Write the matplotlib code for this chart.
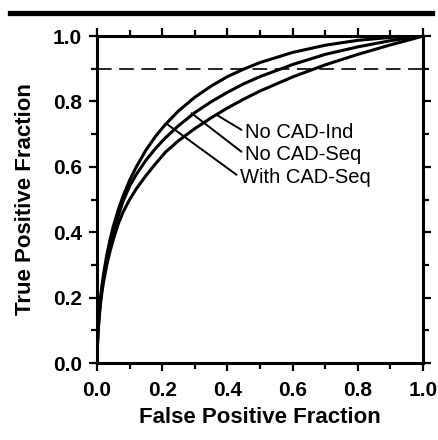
import matplotlib
matplotlib.use('Agg')
import matplotlib.pyplot as plt
from matplotlib.lines import Line2D
from matplotlib.ticker import MultipleLocator

# ROC curves: false positive fraction (shared) vs true positive fraction
fpf = [0, 0.001, 0.003, 0.006, 0.01, 0.015, 0.02, 0.03, 0.04, 0.05, 0.065, 0.08,
       0.1, 0.12, 0.15, 0.18, 0.21, 0.25, 0.3, 0.35, 0.4, 0.45, 0.5, 0.6, 0.7,
       0.8, 0.9, 0.96, 1.0]
tpf_with_seq = [0, 0.053, 0.10, 0.146, 0.192, 0.236, 0.272, 0.331, 0.378, 0.418,
                0.468, 0.511, 0.559, 0.599, 0.651, 0.694, 0.730, 0.771, 0.813,
                0.847, 0.876, 0.899, 0.919, 0.950, 0.972, 0.987, 0.996, 0.999, 1.0]
tpf_no_seq = [0, 0.05, 0.095, 0.14, 0.185, 0.228, 0.262, 0.318, 0.362, 0.40,
              0.45, 0.495, 0.541, 0.576, 0.620, 0.657, 0.689, 0.726, 0.766,
              0.799, 0.828, 0.854, 0.876, 0.913, 0.944, 0.967, 0.986, 0.995, 1.0]
tpf_no_ind = [0, 0.045, 0.09, 0.13, 0.175, 0.215, 0.248, 0.30, 0.342, 0.378,
              0.425, 0.462, 0.50, 0.532, 0.573, 0.61, 0.645, 0.68, 0.717,
              0.75, 0.78, 0.807, 0.832, 0.875, 0.912, 0.944, 0.973, 0.989, 1.0]

threshold = 0.9

labels = ['No CAD-Ind', 'No CAD-Seq', 'With CAD-Seq']
label_pts = [(0.367, 0.759), (0.29, 0.764), (0.213, 0.732)]
label_txt = [(0.455, 0.706), (0.455, 0.637), (0.44, 0.567)]

plt.rcParams['font.family'] = ['Liberation Sans', 'DejaVu Sans']
plt.rcParams['lines.scale_dashes'] = False

fig = plt.figure(figsize=(4.39, 4.40), dpi=100)
ax = fig.add_axes([0.221, 0.175, 0.7426, 0.743])

for tpf in [tpf_with_seq, tpf_no_seq, tpf_no_ind]:
    ax.plot(fpf, tpf, color='black', lw=2.2, solid_capstyle='round', solid_joinstyle='round')

ax.axhline(threshold, color='black', lw=1.2, dashes=(10.5, 5.5))

for lab, pt, tx in zip(labels, label_pts, label_txt):
    ax.annotate(lab, xy=pt, xytext=tx, fontsize=14.5, ha='left', va='center',
                arrowprops=dict(arrowstyle='-', lw=1.4, color='black',
                                relpos=(0, 0.5), shrinkA=1, shrinkB=0))

ax.set_xlim(0, 1)
ax.set_ylim(0, 1)
ax.xaxis.set_major_locator(MultipleLocator(0.2))
ax.xaxis.set_minor_locator(MultipleLocator(0.1))
ax.yaxis.set_major_locator(MultipleLocator(0.2))
ax.yaxis.set_minor_locator(MultipleLocator(0.1))
ax.xaxis.set_major_formatter(lambda v, p: '%.1f' % v)
ax.yaxis.set_major_formatter(lambda v, p: '%.1f' % v)

for s in ax.spines.values():
    s.set_linewidth(2.2)

ax.tick_params(which='both', direction='out', top=True, right=True, width=1.6, colors='black')
ax.tick_params(which='major', length=6)
ax.tick_params(which='minor', length=4.5)
ax.tick_params(axis='x', which='major', pad=7, labelsize=15)
ax.tick_params(axis='y', which='major', pad=5, labelsize=15)
for t in ax.get_xticklabels() + ax.get_yticklabels():
    t.set_fontweight('bold')

ax.set_xlabel('False Positive Fraction', fontsize=16, fontweight='bold', labelpad=5)
ax.set_ylabel('True Positive Fraction', fontsize=16, fontweight='bold', labelpad=12)

# thick rule across the top of the page
fig.add_artist(Line2D([0.023, 0.984], [0.970, 0.970], color='black', lw=3.8,
                      transform=fig.transFigure))

fig.savefig('out.png', dpi=100)
